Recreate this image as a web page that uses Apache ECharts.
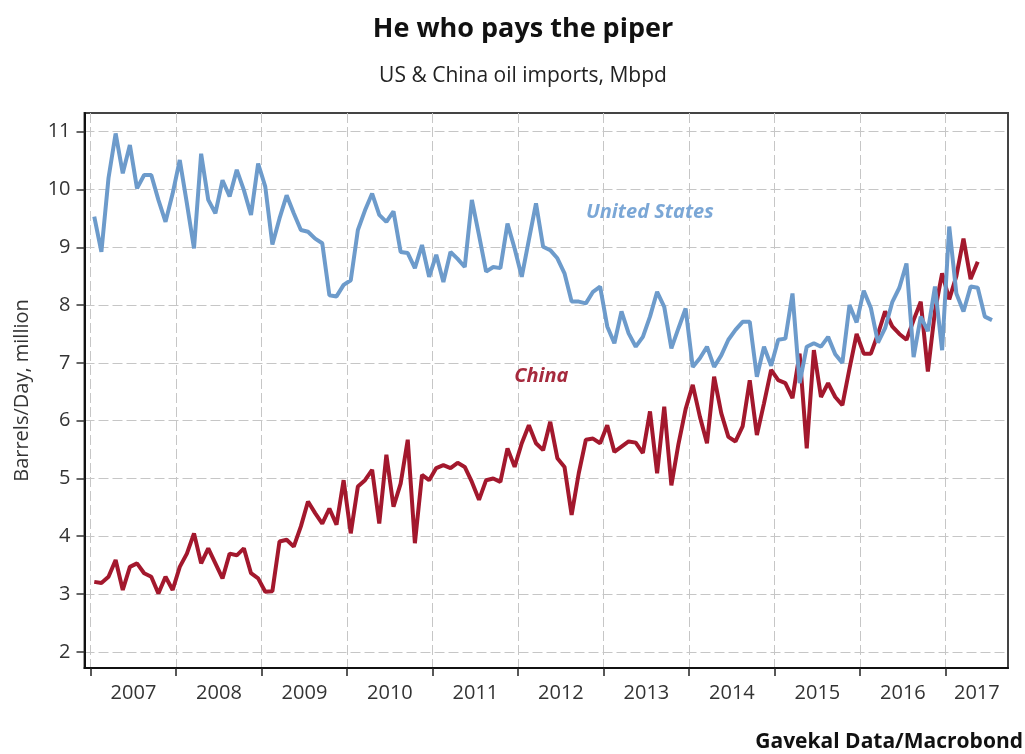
<!DOCTYPE html>
<html>
<head>
<meta charset="utf-8">
<script src="https://cdn.jsdelivr.net/npm/echarts@6/dist/echarts.min.js"></script>
<style>
  html, body { margin: 0; padding: 0; background: #ffffff; }
  #chart { width: 1025px; height: 754px; }
</style>
</head>
<body>
<div id="chart"></div>
<script>
// ---- Data (monthly, starting Jan 2007) ----
const startYear = 2007;
const yearTicks = [2007, 2008, 2009, 2010, 2011, 2012, 2013, 2014, 2015, 2016, 2017];
const yTicks = [2, 3, 4, 5, 6, 7, 8, 9, 10, 11];

const usImports = [
  9.53, 8.92, 10.2, 10.97, 10.28, 10.77, 10.02, 10.25, 10.25, 9.82, 9.44, 9.93,
  10.51, 9.76, 8.98, 10.62, 9.82, 9.59, 10.16, 9.88, 10.34, 9.99, 9.56, 10.45,
  10.05, 9.05, 9.5, 9.9, 9.59, 9.3, 9.27, 9.15, 9.07, 8.17, 8.15, 8.35,
  8.43, 9.3, 9.64, 9.93, 9.56, 9.44, 9.62, 8.92, 8.9, 8.64, 9.04, 8.49,
  8.87, 8.4, 8.92, 8.8, 8.66, 9.82, 9.21, 8.58, 8.66, 8.64, 9.41, 8.98,
  8.49, 9.13, 9.76, 9.01, 8.95, 8.81, 8.55, 8.06, 8.06, 8.03, 8.23, 8.32,
  7.63, 7.34, 7.89, 7.51, 7.28, 7.45, 7.8, 8.23, 7.97, 7.25, 7.6, 7.94,
  6.93, 7.08, 7.28, 6.93, 7.13, 7.4, 7.57, 7.71, 7.71, 6.76, 7.28, 6.95,
  7.4, 7.42, 8.2, 6.65, 7.28, 7.34, 7.28, 7.45, 7.15, 7.0, 8.0, 7.7,
  8.25, 7.95, 7.35, 7.6, 8.05, 8.3, 8.72, 7.1, 7.8, 7.55, 8.32, 7.22,
  9.36, 8.2, 7.89, 8.32, 8.3, 7.8, 7.74
];

const chinaImports = [
  3.21, 3.19, 3.30, 3.59, 3.07, 3.47, 3.53, 3.36, 3.30, 3.01, 3.30, 3.07,
  3.47, 3.70, 4.05, 3.53, 3.79, 3.53, 3.27, 3.70, 3.67, 3.79, 3.36, 3.27,
  3.04, 3.05, 3.91, 3.94, 3.82, 4.17, 4.60, 4.40, 4.22, 4.48, 4.20, 4.97,
  4.05, 4.86, 4.97, 5.15, 4.22, 5.41, 4.51, 4.91, 5.67, 3.88, 5.06, 4.97,
  5.18, 5.23, 5.18, 5.27, 5.20, 4.94, 4.63, 4.97, 5.00, 4.94, 5.52, 5.20,
  5.61, 5.92, 5.61, 5.49, 5.98, 5.35, 5.20, 4.37, 5.09, 5.67, 5.69, 5.61,
  5.92, 5.46, 5.55, 5.64, 5.62, 5.44, 6.16, 5.09, 6.24, 4.88, 5.6, 6.2,
  6.62, 6.07, 5.61, 6.76, 6.13, 5.72, 5.64, 5.9, 6.7, 5.75, 6.3, 6.88,
  6.7, 6.65, 6.39, 7.16, 5.52, 7.22, 6.41, 6.65, 6.41, 6.27, 6.9, 7.5,
  7.16, 7.16, 7.5, 7.89, 7.63, 7.5, 7.4, 7.74, 8.06, 6.85, 7.9, 8.55,
  8.1, 8.5, 9.15, 8.45, 8.75
];

// ---- Build series points (x = decimal year, mid-month) ----
const toPoints = arr => arr.map((v, i) => [startYear + (i + 0.5) / 12, v]);

const xMin = 2006.9275;
const xMax = 2017.729;
const yMin = 1.72;
const yMax = 11.324;

const labelYears = yearTicks.map((y, k) => k < yearTicks.length - 1 ? y + 0.5 : (y + xMax) / 2);

const chart = echarts.init(document.getElementById('chart'), null, { renderer: 'canvas' });

const option = {
  backgroundColor: '#ffffff',
  animation: false,
  title: [
    {
      text: 'He who pays the piper',
      left: 518, top: 11, textAlign: 'center',
      textStyle: { fontFamily: 'Open Sans', fontWeight: 'bold', fontSize: 27, color: '#111' }
    },
    {
      text: 'US & China oil imports, Mbpd',
      left: 518, top: 61, textAlign: 'center',
      textStyle: { fontFamily: 'Open Sans', fontWeight: 'normal', fontSize: 21, color: '#222' }
    },
    {
      text: 'Gavekal Data/Macrobond',
      right: -3, top: 727,
      textStyle: { fontFamily: 'Open Sans', fontWeight: 'bold', fontSize: 21, color: '#111' }
    }
  ],
  grid: {
    left: 84.5, right: 17, top: 113, bottom: 86,
    show: true, borderColor: '#444', borderWidth: 2, backgroundColor: 'transparent'
  },
  xAxis: {
    type: 'value',
    min: xMin, max: xMax,
    axisLine: { show: true, onZero: false, lineStyle: { color: '#111', width: 2 } },
    axisTick: { show: true, customValues: yearTicks, length: 8, inside: false, lineStyle: { color: '#222', width: 1.5 } },
    axisLabel: {
      customValues: labelYears,
      formatter: v => String(Math.floor(v)),
      fontFamily: 'Open Sans', fontSize: 20, color: '#333', margin: 15
    },
    splitLine: { show: true, lineStyle: { color: '#c6c6c6', width: 1, type: [10, 4] } }
  },
  yAxis: {
    type: 'value',
    min: yMin, max: yMax,
    name: 'Barrels/Day, million',
    nameLocation: 'middle',
    nameGap: 52,
    nameTextStyle: { fontFamily: 'Open Sans', fontSize: 20, color: '#333' },
    axisLine: { show: true, onZero: false, lineStyle: { color: '#111', width: 2 } },
    axisTick: { show: true, customValues: yTicks, length: 8, lineStyle: { color: '#333', width: 1.5 } },
    axisLabel: {
      customValues: yTicks,
      fontFamily: 'Open Sans', fontSize: 20, color: '#333', margin: 14
    },
    splitLine: { show: true, lineStyle: { color: '#c6c6c6', width: 1, type: [10, 4] } }
  },
  series: [
    {
      name: 'China',
      type: 'line',
      data: toPoints(chinaImports),
      showSymbol: false,
      lineStyle: { color: '#a3182d', width: 4 },
      itemStyle: { color: '#a3182d' },
      z: 3,
      markPoint: {
        symbol: 'circle', symbolSize: 0,
        data: [{ coord: [2012.27, 6.76], value: 'China' }],
        label: {
          show: true, position: 'inside', formatter: 'China',
          fontFamily: 'Open Sans', fontStyle: 'italic', fontWeight: 'bold', fontSize: 20, color: '#a62a3d'
        }
      }
    },
    {
      name: 'United States',
      type: 'line',
      data: toPoints(usImports),
      showSymbol: false,
      lineStyle: { color: '#6d9bcb', width: 4 },
      itemStyle: { color: '#6d9bcb' },
      z: 4,
      markPoint: {
        symbol: 'circle', symbolSize: 0,
        data: [{ coord: [2013.54, 9.61], value: 'United States' }],
        label: {
          show: true, position: 'inside', formatter: 'United States',
          fontFamily: 'Open Sans', fontStyle: 'italic', fontWeight: 'bold', fontSize: 20, color: '#7ba7d6'
        }
      }
    }
  ]
};

chart.setOption(option);
</script>
</body>
</html>
